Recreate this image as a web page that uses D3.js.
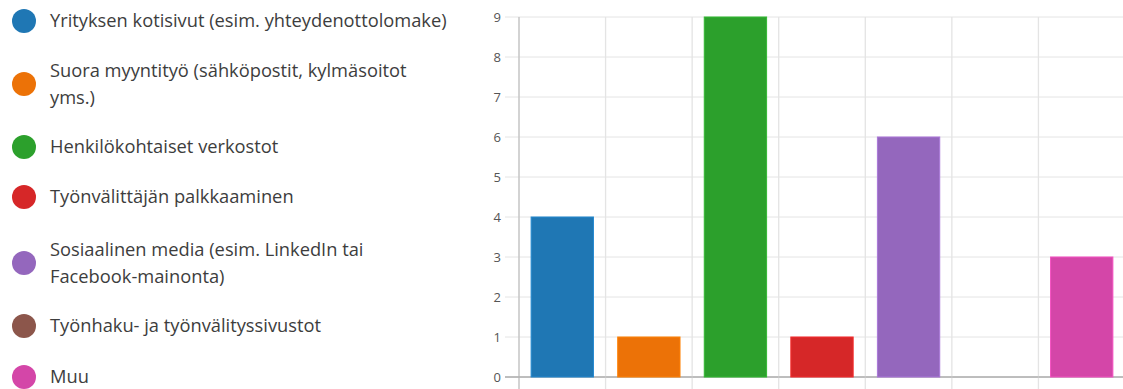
<!DOCTYPE html>
<html>
<head>
<meta charset="utf-8">
<script src="https://cdn.jsdelivr.net/npm/d3@7"></script>
<style>
  html, body { margin: 0; padding: 0; background: #fff; }
  svg { display: block; }
</style>
</head>
<body>
<svg id="chart" width="1123" height="389"></svg>
<script>
// Categories (legend lines), values and colours
const categories = [
  ["Yrityksen kotisivut (esim. yhteydenottolomake)"],
  ["Suora myyntityö (sähköpostit, kylmäsoitot", "yms.)"],
  ["Henkilökohtaiset verkostot"],
  ["Työnvälittäjän palkkaaminen"],
  ["Sosiaalinen media (esim. LinkedIn tai", "Facebook-mainonta)"],
  ["Työnhaku- ja työnvälityssivustot"],
  ["Muu"]
];
const values = [4, 1, 9, 1, 6, 0, 3];
const colors = ["#1f77b4", "#ec7207", "#2ca02c", "#d62728", "#9467bd", "#8c564b", "#d446a8"];
const yTicks = [0, 1, 2, 3, 4, 5, 6, 7, 8, 9];
// vertical centres of the legend entries
const legendY = [21, 84, 147, 197, 263, 326, 377];

const svg = d3.select("#chart");
const fontFamily = "'Open Sans', 'Noto Sans', sans-serif";

// ---- legend ----
const legend = svg.append("g");
const lineH = 27;
categories.forEach((lines, i) => {
  const cy = legendY[i];
  legend.append("circle")
    .attr("cx", 24).attr("cy", cy).attr("r", 12)
    .attr("fill", colors[i]);
  const top = cy - (lines.length - 1) * lineH / 2;
  lines.forEach((t, j) => {
    legend.append("text")
      .attr("x", 50).attr("y", top + j * lineH)
      .attr("dy", "0.35em")
      .attr("font-family", fontFamily)
      .attr("font-size", 18.3)
      .attr("fill", "#3d3d3d")
      .text(t);
  });
});

// ---- bar chart ----
const plot = { left: 519, right: 1125, top: 17, bottom: 377 };
const ids = categories.map((d, i) => i);

const x = d3.scaleBand().domain(ids).range([plot.left, plot.right]);
const y = d3.scaleLinear().domain([0, 9]).range([plot.bottom, plot.top]);

const g = svg.append("g");

// horizontal grid lines, extending left as tick marks
g.selectAll(".hgrid").data(yTicks).join("line")
  .attr("x1", plot.left - 14).attr("x2", plot.right)
  .attr("y1", d => y(d)).attr("y2", d => y(d))
  .attr("stroke", d => d === 0 ? "#a8a8a8" : "#e4e4e4")
  .attr("stroke-width", 1);

// vertical grid lines on category boundaries, extending below as tick marks
const bounds = ids.slice(1).map(i => x(i));
g.selectAll(".vgrid").data(bounds).join("line")
  .attr("x1", d => d).attr("x2", d => d)
  .attr("y1", plot.top).attr("y2", plot.bottom + 12)
  .attr("stroke", "#e4e4e4").attr("stroke-width", 1.3);

// y axis line
g.append("line")
  .attr("x1", plot.left).attr("x2", plot.left)
  .attr("y1", plot.top).attr("y2", plot.bottom + 12)
  .attr("stroke", "#c4c4c4").attr("stroke-width", 1.5);

// zero line drawn again on top
g.append("line")
  .attr("x1", plot.left - 14).attr("x2", plot.right)
  .attr("y1", y(0)).attr("y2", y(0))
  .attr("stroke", "#a8a8a8").attr("stroke-width", 1.2);

// y tick labels
g.selectAll(".ylab").data(yTicks).join("text")
  .attr("x", plot.left - 18).attr("y", d => y(d))
  .attr("dy", "0.35em")
  .attr("text-anchor", "end")
  .attr("font-family", fontFamily)
  .attr("font-size", 13)
  .attr("fill", "#555")
  .text(d => d);

// bars: 72% of each band, centred
const bw = x.bandwidth() * 0.72;
g.selectAll(".bar").data(values).join("rect")
  .attr("x", (d, i) => x(i) + (x.bandwidth() - bw) / 2)
  .attr("y", d => y(d))
  .attr("width", bw)
  .attr("height", d => y(0) - y(d))
  .attr("fill", (d, i) => colors[i])
  .attr("stroke", (d, i) => d3.color(colors[i]).brighter(0.4))
  .attr("stroke-width", d => d > 0 ? 1 : 0);
</script>
</body>
</html>
